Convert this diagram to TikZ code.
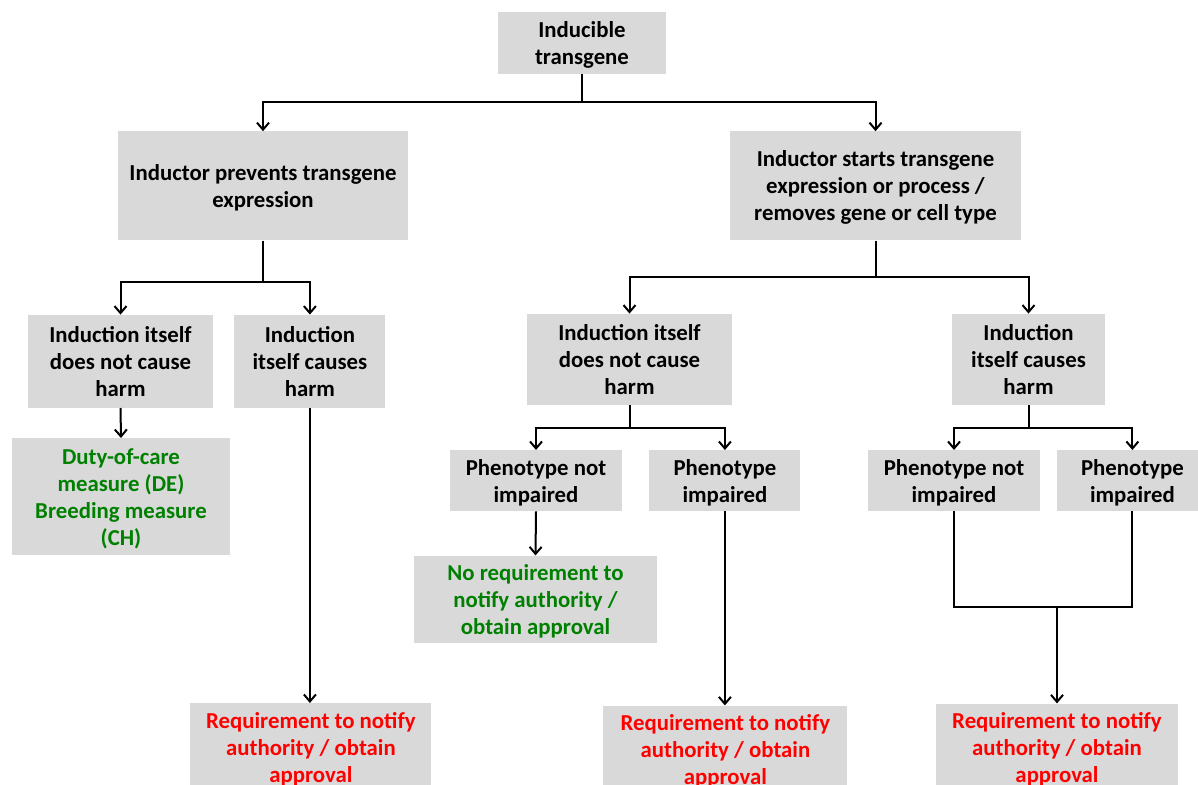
\documentclass[tikz,border=0pt]{standalone}
\usepackage{fontspec}
\setmainfont{Carlito}
\usepackage{tikz}
\usetikzlibrary{arrows.meta,positioning}
\definecolor{boxgray}{HTML}{D9D9D9}
\definecolor{okgreen}{HTML}{008000}
\definecolor{reqred}{HTML}{FF0000}

\begin{document}
\begin{tikzpicture}[x=1pt,y=1pt,font=\fontsize{22.8}{27}\selectfont\bfseries,
  >={Straight Barb[length=7pt,width=12pt]},
  box/.style={fill=boxgray,inner sep=0pt,align=center,text depth=0pt},
  cond/.style={box,minimum height=93pt}, pheno/.style={box,minimum height=61pt},
  ok/.style={box,text=okgreen},
  req/.style={box,text=reqred,minimum height=88pt},
  link/.style={line width=2pt}]
\useasboundingbox (0,0) rectangle (1198,-784);
\node[box,minimum width=168pt,minimum height=62pt] (it) at (582,-43) {Inducible\\transgene};
\node[box,minimum width=290pt,minimum height=109pt,below=57pt of it,xshift=-319pt] (prev) {Inductor prevents transgene\\expression};
\node[box,minimum width=291pt,minimum height=109pt,below=57pt of it,xshift=293.5pt] (start) {Inductor starts transgene\\expression or process /\\removes gene or cell type};
% left branch
\node[cond,minimum width=185pt,below=74pt of prev,xshift=-142.5pt] (nh1) {Induction itself\\does not cause\\harm};
\node[cond,minimum width=151pt,right=21pt of nh1] (ch1) {Induction\\itself causes\\harm};
\node[ok,minimum width=218pt,minimum height=117pt,below=30pt of nh1,xshift=0.5pt] (duty) {Duty-of-care\\measure (DE)\\Breeding measure\\(CH)};
\node[req,minimum width=241pt,below=295pt of ch1,xshift=1pt] (req1) {Requirement to notify\\authority / obtain\\approval};
% right branch
\node[cond,minimum width=205pt,minimum height=91pt,below=73pt of start,xshift=-246pt] (nh2) {Induction itself\\does not cause\\harm};
\node[cond,minimum width=153pt,minimum height=91pt,below=73pt of start,xshift=153pt] (ch2) {Induction\\itself causes\\harm};
\node[pheno,minimum width=172pt,below=45pt of nh2,xshift=-93.5pt] (pn1) {Phenotype not\\impaired};
\node[pheno,minimum width=151pt,right=27pt of pn1] (pi1) {Phenotype\\impaired};
\node[pheno,minimum width=172pt,below=45pt of ch2,xshift=-74.5pt] (pn2) {Phenotype not\\impaired};
\node[pheno,minimum width=150pt,right=17pt of pn2] (pi2) {Phenotype\\impaired};
\node[ok,minimum width=243pt,minimum height=87pt,below=44pt of pn1,xshift=-0.5pt] (norq) {No requirement to\\notify authority /\\obtain approval};
\node[req,minimum width=244pt,below=194pt of pi1,xshift=0.5pt] (req2) {Requirement to notify\\authority / obtain\\approval};
\node[req,minimum width=242pt,below=192pt of pn2,xshift=103pt] (req3) {Requirement to notify\\authority / obtain\\approval};
% connectors
\draw[link] (it.south) -- ++(0,-28) coordinate (j1);
\draw[link,->] (j1) -| (prev.north);
\draw[link,->] (j1) -| (start.north);
\draw[link] (prev.south) -- ++(0,-41) coordinate (j2);
\draw[link,->] (j2) -| (nh1.north);
\draw[link,->] (j2) -| (ch1.north);
\draw[link,->] (nh1.south) -- (duty.north);
\draw[link,->] (ch1.south) -- (ch1.south |- req1.north);
\draw[link] (start.south) -- ++(0,-36) coordinate (j3);
\draw[link,->] (j3) -| (nh2.north);
\draw[link,->] (j3) -| (ch2.north);
\draw[link] (nh2.south) -- ++(0,-23) coordinate (j4);
\draw[link,->] (j4) -| (pn1.north);
\draw[link,->] (j4) -| (pi1.north);
\draw[link] (ch2.south) -- ++(0,-23) coordinate (j5);
\draw[link,->] (j5) -| (pn2.north);
\draw[link,->] (j5) -| (pi2.north);
\draw[link,->] (pn1.south) -- (norq.north);
\draw[link,->] (pi1.south) -- (pi1.south |- req2.north);
\draw[link] (pn2.south) -- ++(0,-96) coordinate (j6) -| (pi2.south);
\draw[link,->] (req3.north |- j6) -- (req3.north);
\end{tikzpicture}
\end{document}
